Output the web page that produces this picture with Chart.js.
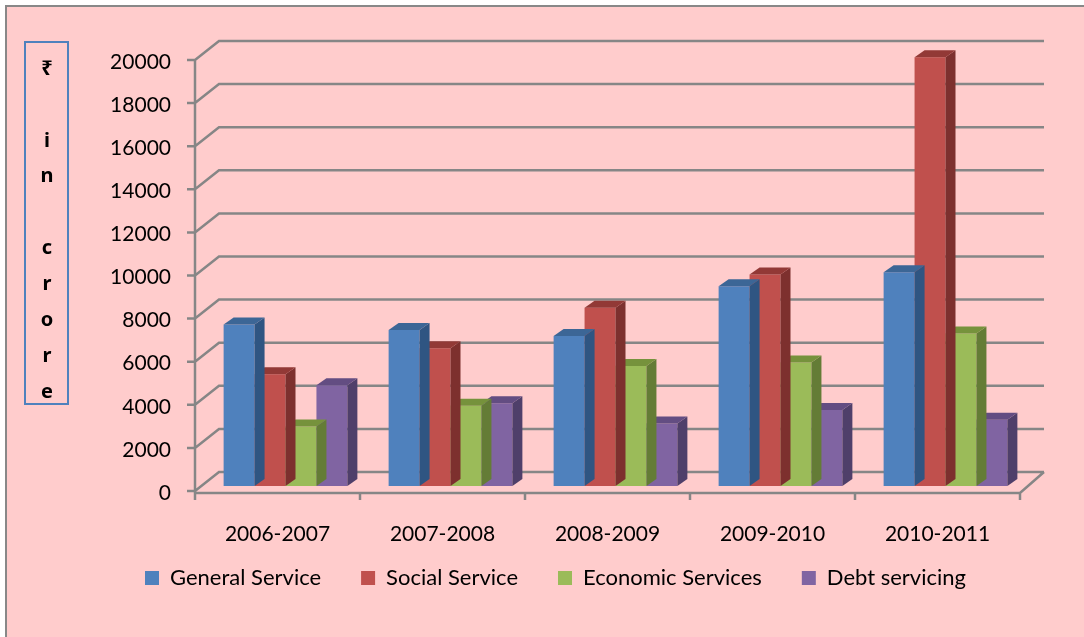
<!DOCTYPE html>
<html>
<head>
<meta charset="utf-8">
<script src="https://cdn.jsdelivr.net/npm/chart.js@4.4.0/dist/chart.umd.min.js"></script>
<style>
  html, body { margin: 0; padding: 0; background: #fff; }
  #wrap { position: absolute; left: 0; top: 0; width: 1084px; height: 637px; }
</style>
</head>
<body>
<div id="wrap"><canvas id="myChart" width="1084" height="637"></canvas></div>
<script>
// data
const years = ["2006-2007", "2007-2008", "2008-2009", "2009-2010", "2010-2011"]
const generalService = [7500, 7240, 6960, 9270, 9920]
const socialService = [5190, 6390, 8270, 9810, 19900]
const economicServices = [2760, 3720, 5570, 5730, 7080]
const debtServicing = [4680, 3840, 2900, 3530, 3070]
const axisTitle = ["₹", "", "i", "n", "", "c", "r", "o", "r", "e"]

// front / top / side colours of the 3d bars
const faces = [
   ["#4F81BD", "#3C6696", "#2F5582"],
   ["#C0504D", "#923936", "#7D302E"],
   ["#9BBB59", "#76923C", "#647C36"],
   ["#8064A2", "#634D82", "#4F3F6A"]
]

const WALL_DX = 24, WALL_DY = 19   // depth of the back wall
const BAR_DX = 10, BAR_DY = 7      // depth of each bar
const SHIFT_X = 8, SHIFT_Y = -5    // bars stand a little behind the front plane
const LEGEND_UP = 24
const GRID = "#868686"
const FONT = "Lato"

const threeD = {
   id: "threeD",
   afterLayout(chart) {
      // pull the legend up under the category labels
      chart.legend.top -= LEGEND_UP
      chart.legend.bottom -= LEGEND_UP
   },
   beforeDraw(chart) {
      const ctx = chart.ctx
      ctx.save()
      ctx.fillStyle = "#fff"
      ctx.fillRect(0, 0, chart.width, chart.height)
      ctx.fillStyle = "#FFCCCC"
      ctx.fillRect(6, 6, chart.width, chart.height)
      ctx.strokeStyle = "#888"
      ctx.lineWidth = 2
      ctx.strokeRect(6, 6, chart.width + 10, chart.height + 10)

      // axis title box
      ctx.strokeStyle = "#4F81BD"
      ctx.strokeRect(25, 42, 43, 362)
      ctx.fillStyle = "#000"
      ctx.font = "bold 20px 'Noto Sans', 'DejaVu Sans', sans-serif"
      ctx.textAlign = "center"
      ctx.textBaseline = "middle"
      for (let i = 0; i < axisTitle.length; i++) {
         ctx.fillText(axisTitle[i], 47, 69 + i * 35.9)
      }
      ctx.restore()
   },
   beforeDatasetsDraw(chart) {
      const ctx = chart.ctx
      const y = chart.scales.y
      const a = chart.chartArea
      const right = a.right + WALL_DX
      ctx.save()
      ctx.strokeStyle = GRID
      ctx.lineWidth = 2.5
      ctx.beginPath()
      y.ticks.forEach(t => {
         const py = y.getPixelForValue(t.value)
         ctx.moveTo(a.left - 8, py)
         ctx.lineTo(a.left, py)
         ctx.lineTo(a.left + WALL_DX, py - WALL_DY)
         ctx.lineTo(right, py - WALL_DY)
      })
      // front axis
      ctx.moveTo(a.left, y.getPixelForValue(y.max))
      ctx.lineTo(a.left, a.bottom + 2)
      // floor
      ctx.moveTo(a.left, a.bottom + 2)
      ctx.lineTo(a.right, a.bottom + 2)
      ctx.lineTo(right, a.bottom - WALL_DY)
      for (let i = 0; i <= years.length; i++) {
         const px = a.left + (a.right - a.left) * i / years.length
         ctx.moveTo(px, a.bottom + 2)
         ctx.lineTo(px, a.bottom + 9)
      }
      ctx.stroke()
      ctx.restore()

      ctx.save()
      ctx.translate(SHIFT_X, SHIFT_Y)
   },
   afterDatasetDraw(chart, args) {
      const ctx = chart.ctx
      const cols = faces[args.index]
      args.meta.data.forEach(bar => {
         const l = bar.x - bar.width / 2
         const r = bar.x + bar.width / 2
         const top = bar.y
         const bottom = bar.base
         ctx.fillStyle = cols[2]
         ctx.beginPath()
         ctx.moveTo(r, top)
         ctx.lineTo(r + BAR_DX, top - BAR_DY)
         ctx.lineTo(r + BAR_DX, bottom - BAR_DY)
         ctx.lineTo(r, bottom)
         ctx.closePath()
         ctx.fill()
         ctx.fillStyle = cols[1]
         ctx.beginPath()
         ctx.moveTo(l, top)
         ctx.lineTo(l + BAR_DX, top - BAR_DY)
         ctx.lineTo(r + BAR_DX, top - BAR_DY)
         ctx.lineTo(r, top)
         ctx.closePath()
         ctx.fill()
      })
   },
   afterDatasetsDraw(chart) {
      chart.ctx.restore()
   }
}

const mk = (label, data, i) => ({
   label: label,
   data: data,
   backgroundColor: faces[i][0],
   borderWidth: 0,
   categoryPercentage: 0.75,
   barPercentage: 1,
   clip: false
})

const config = {
   type: "bar",
   data: {
      labels: years,
      datasets: [
         mk("General Service", generalService, 0),
         mk("Social Service", socialService, 1),
         mk("Economic Services", economicServices, 2),
         mk("Debt servicing", debtServicing, 3)
      ]
   },
   options: {
      responsive: false,
      animation: false,
      events: [],
      layout: { padding: { top: 60, left: 91, right: 64, bottom: 14 } },
      scales: {
         y: {
            min: 0,
            max: 20000,
            ticks: {
               stepSize: 2000,
               padding: 24,
               labelOffset: 2,
               color: "#000",
               font: { family: FONT, size: 21 },
               callback: v => String(v)
            },
            grid: { display: false, drawTicks: false },
            border: { display: false },
            afterFit: s => { s.width = 104 }
         },
         x: {
            ticks: { padding: 31, color: "#000", font: { family: FONT, size: 21 } },
            grid: { display: false, drawTicks: false },
            border: { display: false },
            afterFit: s => { s.height = 60 }
         }
      },
      plugins: {
         legend: {
            position: "bottom",
            labels: {
               boxWidth: 14,
               boxHeight: 14,
               padding: 40,
               color: "#000",
               font: { family: FONT, size: 22 }
            }
         },
         tooltip: { enabled: false }
      }
   },
   plugins: [threeD]
}

var myChart = new Chart(document.getElementById("myChart"), config)
</script>
</body>
</html>
